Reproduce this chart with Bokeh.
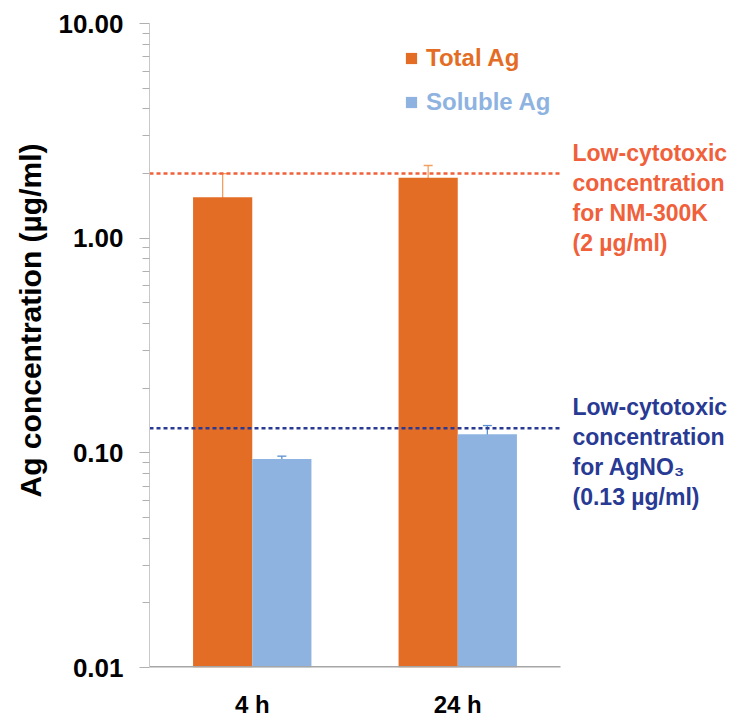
from bokeh.plotting import figure
from bokeh.models import (ColumnDataSource, Whisker, Label, Legend, Range1d,
                          LegendItem, FixedTicker, PrintfTickFormatter, TeeHead)
from bokeh.embed import file_html
from bokeh.resources import INLINE

# ---- data ----
times = ["4 h", "24 h"]
total_ag = [1.55, 1.91]
total_err = [0.45, 0.27]
soluble_ag = [0.0935, 0.122]
soluble_err = [0.003, 0.012]
nm300k_limit = 2.0
agno3_limit = 0.13
y_major = [0.01, 0.1, 1, 10]
y_minor = [m * d for d in [0.01, 0.1, 1] for m in range(2, 10)]
nm_text = ["Low-cytotoxic", "concentration", "for NM-300K", "(2 µg/ml)"]
ag_text = ["Low-cytotoxic", "concentration", "for AgNO₃", "(0.13 µg/ml)"]

FONT = "Liberation Sans"
ORANGE = "#e46d25"
LBLUE = "#8eb3e0"
RED_OR = "#f0603a"
DBLUE = "#283a93"

n = len(times)
centers = [i + 0.5 for i in range(n)]
bw = 0.288

src = ColumnDataSource(dict(
    xt=[c - bw / 2 for c in centers], xs=[c + bw / 2 for c in centers],
    total=total_ag, soluble=soluble_ag,
    t_lo=[v - e for v, e in zip(total_ag, total_err)],
    t_hi=[v + e for v, e in zip(total_ag, total_err)],
    s_lo=[v - e for v, e in zip(soluble_ag, soluble_err)],
    s_hi=[v + e for v, e in zip(soluble_ag, soluble_err)],
))

FW_CAT = 411          # pixel width of the category area
FW = 579              # frame width, including room for the notes on the right
p = figure(x_range=Range1d(0, n * FW / FW_CAT), y_axis_type="log", y_range=(0.01, 10),
           frame_width=FW, frame_height=644,
           min_border_left=149, min_border_right=0, min_border_top=23, min_border_bottom=50,
           output_backend="svg", toolbar_location=None)
p.outline_line_color = None
p.grid.visible = False

r_total = p.vbar(x="xt", top="total", bottom=0.01, width=bw, source=src,
                 fill_color=ORANGE, line_color=None)
r_sol = p.vbar(x="xs", top="soluble", bottom=0.01, width=bw, source=src,
               fill_color=LBLUE, line_color=None)

for xk, key, col in [("xt", "t", "#f2a062"), ("xs", "s", "#5b8fd0")]:
    w = Whisker(base=xk, lower=key + "_lo", upper=key + "_hi",
                source=src, line_color=col, line_width=1.3,
                upper_head=TeeHead(size=9, line_color=col, line_width=1.3),
                lower_head=TeeHead(size=9, line_color=col, line_width=1.3))
    p.add_layout(w)

# x axis baseline (only under the categories)
p.segment(x0=[0], x1=[n], y0=[0.01], y1=[0.01], line_color="#a6a6a6", line_width=3)

# reference lines
p.segment(x0=[0], x1=[n], y0=[nm300k_limit], y1=[nm300k_limit], line_color=RED_OR,
          line_width=2.5, line_dash="4 3")
p.segment(x0=[0], x1=[n], y0=[agno3_limit], y1=[agno3_limit], line_color=DBLUE,
          line_width=2.5, line_dash="4 3")

offs = [21, -9, -39, -69]
for txt, dy in zip(nm_text, offs):
    p.add_layout(Label(x=n, y=nm300k_limit, x_offset=12, y_offset=dy, text=txt,
                       text_font=FONT, text_font_style="bold", text_font_size="23px",
                       text_color=RED_OR, text_baseline="alphabetic"))
for txt, dy in zip(ag_text, offs):
    p.add_layout(Label(x=n, y=agno3_limit, x_offset=12, y_offset=dy, text=txt,
                       text_font=FONT, text_font_style="bold", text_font_size="23px",
                       text_color=DBLUE, text_baseline="alphabetic"))

# legends
for r, lab, col, ly in [(r_total, "Total Ag", ORANGE, 595), (r_sol, "Soluble Ag", LBLUE, 551)]:
    lg = Legend(items=[LegendItem(label=lab, renderers=[r])], location=(255, ly),
                glyph_width=14, glyph_height=14, label_standoff=8, padding=0, margin=0,
                spacing=0, border_line_color=None, background_fill_alpha=0,
                label_text_font=FONT, label_text_font_style="bold",
                label_text_font_size="24px", label_text_color=col)
    p.add_layout(lg, "center")

# y axis
ya = p.yaxis[0]
ya.ticker = FixedTicker(ticks=y_major, minor_ticks=y_minor)
ya.formatter = PrintfTickFormatter(format="%.2f")
ya.axis_line_color = "#c8c8c8"
ya.major_tick_line_color = "#b0b0b0"
ya.minor_tick_line_color = "#b0b0b0"
ya.major_tick_in = 0
ya.major_tick_out = 10
ya.minor_tick_in = 0
ya.minor_tick_out = 7
ya.major_label_standoff = 16
ya.major_label_text_font = FONT
ya.major_label_text_font_style = "bold"
ya.major_label_text_font_size = "26px"
ya.major_label_text_color = "black"
ya.axis_label = "\u00a0" * 6 + "Ag concentration (µg/ml)"
ya.axis_label_text_font = FONT
ya.axis_label_text_font_style = "bold"
ya.axis_label_text_font_size = "30px"
ya.axis_label_text_color = "black"
ya.axis_label_standoff = 8

# x axis
xa = p.xaxis[0]
xa.ticker = FixedTicker(ticks=centers)
xa.major_label_overrides = {c: t for c, t in zip(centers, times)}
xa.axis_line_color = None
xa.major_tick_line_color = None
xa.minor_tick_line_color = None
xa.major_label_standoff = 17
xa.major_label_text_font = FONT
xa.major_label_text_font_style = "bold"
xa.major_label_text_font_size = "24px"
xa.major_label_text_color = "black"

open("out.html", "w").write(file_html(p, INLINE))
